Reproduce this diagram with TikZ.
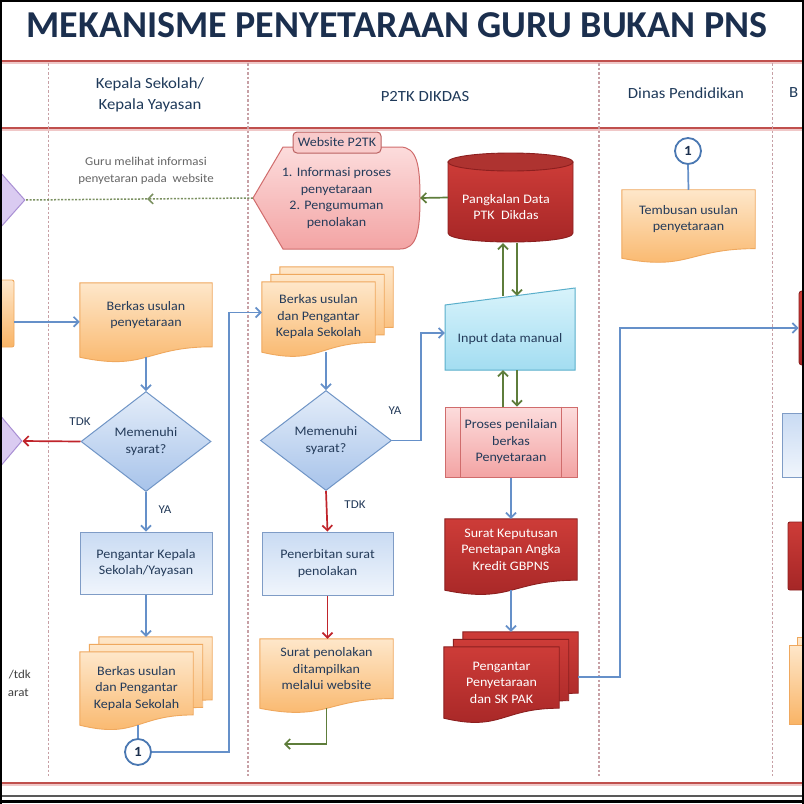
\documentclass[tikz,border=0pt]{standalone}
\usepackage{fontspec}
\setmainfont{Carlito}[FakeStretch=1.08]
\newfontfamily\titlefont{Carlito}
\usetikzlibrary{shapes.geometric,arrows.meta,calc,backgrounds}
\definecolor{navy}{HTML}{1B2F4E}
\definecolor{txt}{HTML}{243B5A}
\definecolor{hdrc}{HTML}{1F3A5A}
\definecolor{lanered}{HTML}{C0504D}
\definecolor{lanepink}{HTML}{F0C8C8}
\definecolor{lanedash}{HTML}{C7A0A5}
\definecolor{ablue}{HTML}{6590C9}
\definecolor{cblue}{HTML}{4A78B2}
\definecolor{ared}{HTML}{C0242B}
\definecolor{agreen}{HTML}{5E7D3B}
\definecolor{dgreen}{HTML}{7A9060}
\definecolor{orT}{HTML}{FEE7CA}
\definecolor{orB}{HTML}{F9B466}
\definecolor{orD}{HTML}{EFA85E}
\definecolor{blT}{HTML}{C9DBF3}
\definecolor{blB}{HTML}{F0F5FC}
\definecolor{blD}{HTML}{7F9CC6}
\definecolor{diT}{HTML}{E4EDF9}
\definecolor{diB}{HTML}{A7C3EA}
\definecolor{diD}{HTML}{7095C6}
\definecolor{drT}{HTML}{CD3C38}
\definecolor{drB}{HTML}{A52626}
\definecolor{drD}{HTML}{8C1F1F}
\definecolor{cyT}{HTML}{D8F3FB}
\definecolor{cyB}{HTML}{A3DDF1}
\definecolor{cyD}{HTML}{5AAFCB}
\definecolor{pkT}{HTML}{FCDCDC}
\definecolor{pkB}{HTML}{F3A4A4}
\definecolor{pkD}{HTML}{D06C6C}
\definecolor{puF}{HTML}{DACBF1}
\definecolor{puD}{HTML}{A98FD4}
\newcommand\docbg[2]{%
 \path[#2] (#1.north west) -- (#1.north east) -- (#1.south east)
   .. controls (#1.south) and ($(#1.north)!1.384!(#1.south)$) .. ($(#1.north west)!1.163!(#1.south west)$) -- cycle;
 \coordinate (#1-b) at ($(#1.north)!1.163!(#1.south)$);}
\newcommand\docbgh[2]{%
 \path[#2] (#1.north west) -- (#1.north east) -- ($(#1.north east)!0.86!(#1.south east)$)
   .. controls ($(#1.north)!0.86!(#1.south)$) and ($(#1.north)!1.19!(#1.south)$) .. (#1.south west) -- cycle;
 \coordinate (#1-b) at (#1.south);}
\begin{document}
\begin{tikzpicture}[x=1pt,y=-1pt,
 every node/.style={font=\fontsize{13}{16.5}\selectfont, text=txt},
 hdr/.style={font=\fontsize{15.5}{21}\selectfont, text=hdrc, align=center, inner sep=0pt},
 small/.style={font=\fontsize{12}{16.5}\selectfont, text=black!60, align=center, inner sep=0pt},
 lbl/.style={font=\fontsize{12}{14}\selectfont, text=txt, inner sep=0pt},
 docn/.style={rectangle, align=center, inner sep=0pt, draw=none},
 orsh/.style={top color=orT, bottom color=orB, draw=orD, line width=0.9pt},
 drsh/.style={top color=drT, bottom color=drB, draw=drD, line width=0.9pt},
 blbox/.style={rectangle, align=center, inner sep=0pt, top color=blT, bottom color=blB, draw=blD, line width=1pt},
 diabox/.style={diamond, align=center, inner sep=0pt, minimum width=130pt, minimum height=100pt, top color=diT, bottom color=diB, draw=diD, line width=1pt},
 procbox/.style={rectangle, align=center, inner sep=0pt, top color=pkT, bottom color=pkB, draw=pkD, line width=1pt},
 circ/.style={circle, draw=cblue, line width=1.8pt, fill=white, minimum size=26pt, inner sep=0pt, font=\bfseries\fontsize{14}{14}\selectfont, text=navy},
 bline/.style={draw=ablue, line width=1.7pt},
 rline/.style={draw=ared, line width=1.7pt},
 gline/.style={draw=agreen, line width=1.7pt},
 dline/.style={draw=dgreen, line width=1.5pt, dash pattern=on 2pt off 1.5pt},
 arr/.style={-{Straight Barb[length=5pt,width=10pt]}}
]
\useasboundingbox (0,0) rectangle (804,804);
\clip (0,0) rectangle (804,804);

% title and headers
\node[font=\titlefont\bfseries\fontsize{38}{40}\selectfont, text=navy, inner sep=0pt] (title) at (397,25.5) {MEKANISME PENYETARAAN GURU BUKAN PNS};
\node[hdr] (h1) at (150,95) {Kepala Sekolah/\\Kepala Yayasan};
\node[hdr] (h2) at (425,97) {P2TK DIKDAS};
\node[hdr] (h3) at (686,93) {Dinas Pendidikan};
\node[hdr, anchor=west] (h4) at (789,93) {B};

% left partial shapes
\node[diamond, fill=puF, draw=puD, line width=1pt, minimum width=110pt, minimum height=124pt, inner sep=0pt] (pur1) at (-30,200) {};
\node[diamond, fill=puF, draw=puD, line width=1pt, minimum width=104pt, minimum height=123pt, inner sep=0pt] (pur2) at (-30,441) {};
\node[rectangle, rounded corners=2pt, top color=orT, bottom color=orB, draw=orD, line width=0.9pt, minimum width=54pt, minimum height=67pt] (lo) at (-13,313.5) {};
\node[lbl, anchor=east, text=black!75] (lt1) at (31,675) {/tdk};
\node[lbl, anchor=east, text=black!75] (lt2) at (29,693) {arat};
\node[small] (gtxt) at (146,171) {Guru melihat informasi\\penyetaran pada~ website};

% Kepala Sekolah lane
\node[docn, minimum width=132pt, minimum height=63.6pt] (d1) at (146,314.8) {Berkas usulan\\penyetaraan};
\node[diabox] (dia1) at (146,441.5) {Memenuhi\\syarat?};
\node[blbox, minimum width=132pt, minimum height=62pt] (pk) at (146,563) {Pengantar Kepala\\Sekolah/Yayasan};
\node[docn, minimum width=113pt, minimum height=73pt] (mkb) at (155.5,673.5) {};
\node[docn, minimum width=113pt, minimum height=73pt] (mkm) at (146,681) {};
\node[docn, minimum width=113pt, minimum height=73pt] (mkf) at (136.5,688.5) {Berkas usulan\\dan Pengantar\\Kepala Sekolah};
\node[circ] (c1) at (138,752) {1};
\node[lbl] (tdk1) at (80,422) {TDK};
\node[lbl] (ya1) at (165,510) {YA};

% P2TK lane
\node[docn, minimum width=167pt, minimum height=102pt] (web) at (336.5,198) {1. Informasi proses\\penyetaraan\\2. Pengumuman\\penolakan};
\node[rectangle, rounded corners=4pt, fill=pkT!70!pkB, draw=pkD!90!black, line width=1pt, minimum width=88pt, minimum height=21pt, inner sep=0pt] (tab) at (337,142.5) {Website P2TK};
\node[docn, minimum width=125pt, minimum height=89pt] (cyl) at (510.5,197.5) {};
\node[align=center, inner sep=0pt, text=white] (cylt) at (506,207) {Pangkalan Data\\PTK\ \ Dikdas};
\node[docn, minimum width=113pt, minimum height=70pt] (mpb) at (336.5,302) {};
\node[docn, minimum width=113pt, minimum height=70pt] (mpm) at (327.5,309.5) {};
\node[docn, minimum width=113pt, minimum height=70pt] (mpf) at (318.5,317) {Berkas usulan\\dan Pengantar\\Kepala Sekolah};
\node[diabox, minimum width=131pt] (dia2) at (326,440.5) {Memenuhi\\syarat?};
\node[blbox, minimum width=131pt, minimum height=63pt] (pn) at (327.5,563.5) {Penerbitan surat\\penolakan};
\node[docn, minimum width=133pt, minimum height=59.3pt] (sp) at (326.5,668.7) {Surat penolakan\\ditampilkan\\melalui website};
\coordinate (spend) at (284,744);
\node[lbl] (ya2) at (395,411) {YA};
\node[lbl] (tdk2) at (355,505) {TDK};
\node[docn, minimum width=130pt, minimum height=74pt] (inp) at (510,333) {};
\node[inner sep=0pt] (inpt) at (510,339) {Input data manual};
\node[procbox, minimum width=132pt, minimum height=70pt] (pp) at (511,442) {Proses penilaian\\berkas\\Penyetaraan};
\draw[pkD, line width=1pt] ([xshift=16pt]pp.north west) -- ([xshift=16pt]pp.south west);
\draw[pkD, line width=1pt] ([xshift=-16pt]pp.north east) -- ([xshift=-16pt]pp.south east);
\node[docn, minimum width=132pt, minimum height=61pt, text=white] (sk) at (511,549.5) {Surat Keputusan\\Penetapan Angka\\Kredit GBPNS};
\node[docn, minimum width=115pt, minimum height=71pt] (mrb) at (520.5,667.5) {};
\node[docn, minimum width=115pt, minimum height=71pt] (mrm) at (511,675) {};
\node[docn, minimum width=115pt, minimum height=71pt, text=white] (mrf) at (501.5,682.5) {Pengantar\\Penyetaraan\\dan SK PAK};

% Dinas lane
\node[circ] (c2) at (688,151) {1};
\node[docn, minimum width=133pt, minimum height=58.5pt] (tem) at (688.5,219.2) {Tembusan usulan\\penyetaraan};

% right partial shapes
\node[rectangle, rounded corners=3pt, top color=drT, bottom color=drB, draw=drD, line width=0.9pt, minimum width=61pt, minimum height=74pt] (rr1) at (829.5,328) {};
\node[blbox, minimum width=60pt, minimum height=64pt] (rb) at (812,445) {};
\node[rectangle, rounded corners=2pt, top color=drT, bottom color=drB, draw=drD, line width=0.9pt, minimum width=60pt, minimum height=68pt] (rr2) at (818,556) {};

\begin{scope}[on background layer]
 \fill[white] (0,0) rectangle (804,804);
 % lanes
 \foreach \yy in {61,128,783} {
   \draw[lanepink, line width=2pt] (0,\yy+2.2) -- (804,\yy+2.2);
   \draw[lanered, line width=1.4pt] (0,\yy) -- (804,\yy);
 }
 \foreach \xx in {48.5,248,599,772.5} {
   \draw[lanedash, line width=1.3pt, dash pattern=on 2.5pt off 2pt] (\xx,63) -- (\xx,776);
 }
 % right orange partial
 \path[orsh] (797,637) rectangle (830,716);
 \path[orsh] (789,645) rectangle (830,724);
 % website display shape
 \path[top color=pkT, bottom color=pkB, draw=pkD, line width=1pt]
   (253,198) -- (283,147) -- (400,147) .. controls (417,147) and (420,165) .. (420,198)
   .. controls (420,231) and (417,249) .. (400,249) -- (283,249) -- cycle;
 % cylinder
 \path[top color=drT, bottom color=drB, draw=drD, line width=0.9pt]
   (448,162) -- (448,233) .. controls (448,245) and (573,245) .. (573,233) -- (573,162) -- cycle;
 \path[fill=drT!85!black, draw=drD, line width=0.9pt] (510.5,162) ellipse [x radius=62.5, y radius=9];
 % manual input
 \path[top color=cyT, bottom color=cyB, draw=cyD, line width=1pt]
   (445,305) -- (575,288) -- (575,370) -- (445,370) -- cycle;
 % documents
 \docbg{d1}{orsh}
 \docbg{tem}{orsh}
 \docbg{sp}{orsh}
 \docbg{sk}{drsh}
 \docbgh{mkb}{orsh}
 \docbgh{mkm}{orsh}
 \docbgh{mkf}{orsh}
 \docbgh{mpb}{orsh}
 \docbgh{mpm}{orsh}
 \docbgh{mpf}{orsh}
 \docbgh{mrb}{drsh}
 \docbgh{mrm}{drsh}
 \docbgh{mrf}{drsh}
\end{scope}

% connectors
\coordinate (dmid) at ($(web.west)!0.465!(pur1.east)$);
\draw[dline,arr] (web.west) -- (dmid);
\draw[dline] (dmid) -- (pur1.east);
\draw[bline,arr] ($(lo.east)+(0,8.3)$) -- ($(d1.west)+(0,7)$);
\draw[bline,arr] (d1-b) -- (dia1.north);
\draw[rline,arr] (dia1.west) -- (pur2.east);
\draw[bline,arr] (dia1.south) -- (pk.north);
\draw[bline,arr] (pk.south) -- (pk.south |- mkb.north);
\draw[bline] (c1.north |- mkf-b) -- (c1.north);
\draw[bline,arr] (c1.east) -- ++(77,0) |- ($(mpf.west)+(0,-4.5)$);
\draw[bline,arr] (dia2.north |- mpf-b) -- (dia2.north);
\draw[bline,arr] (dia2.east) -- ++(29,0) |- (inp.west);
\draw[rline,arr] (dia2.south) -- (pn.north);
\draw[rline,arr] (pn.south) -- (pn.south |- sp.north);
\draw[gline,arr] (sp-b) -- (sp-b |- spend) -- (spend);
\draw[gline,arr] (cyl.west) -- (web.east);
\draw[gline,arr] ($(inp.north)+(-7,0)$) -- ($(cyl.south)+(-7.5,1)$);
\draw[gline,arr] ($(cyl.south)+(6.5,1)$) -- ($(inp.north)+(7,0)$);
\draw[gline,arr] ($(pp.north)+(-8,0)$) -- ($(inp.south)+(-7,0)$);
\draw[gline,arr] ($(inp.south)+(7,0)$) -- ($(pp.north)+(6,0)$);
\draw[bline,arr] (pp.south) -- (sk.north);
\draw[bline,arr] (sk-b) -- (sk-b |- mrb.north);
\draw[bline,arr] ($(mrb.east)+(0,9.5)$) -- ++(41.5,0) |- (rr1.west);
\draw[bline] (c2.south) -- (tem.north);

% frame
\draw[black!65, line width=2pt] (0,795.5) -- (804,795.5);
\draw[black, line width=2.5pt] (0,801.5) -- (804,801.5);
\draw[black, line width=2pt] (1,0) -- (1,804);
\draw[black, line width=2pt] (0,1) -- (804,1);
\draw[black, line width=2.5pt] (802.8,0) -- (802.8,804);
\end{tikzpicture}
\end{document}
